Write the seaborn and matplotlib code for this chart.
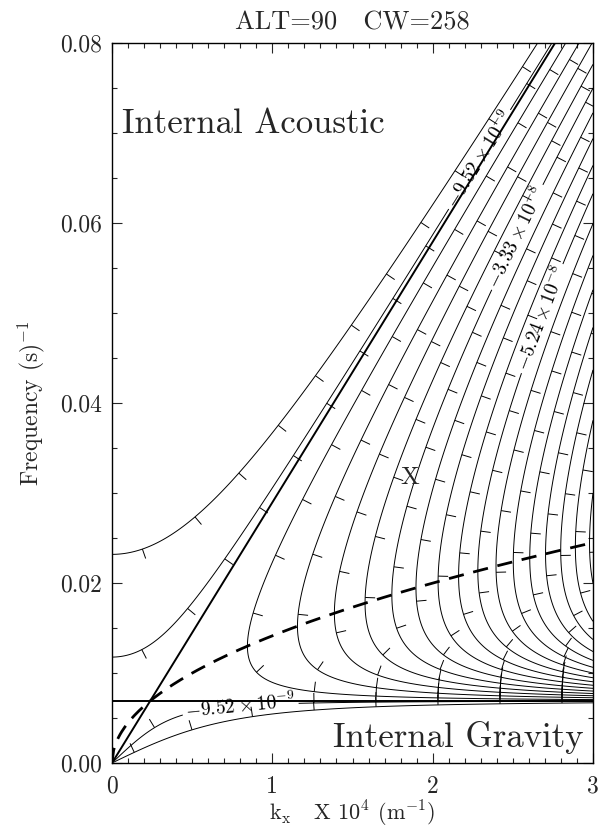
import numpy as np
import matplotlib
matplotlib.use("Agg")
import matplotlib.pyplot as plt
import seaborn as sns
from matplotlib.collections import LineCollection
from matplotlib.path import Path
from matplotlib.ticker import MultipleLocator, FormatStrFormatter

# physical parameters
sound_speed = 289.5      # m/s, slope of the acoustic line
brunt_freq = 0.0069      # s^-1, horizontal line
cutoff_freq = 0.0306     # s^-1, acoustic cut-off

# contour levels of kz^2 (units of 1e-8 m^-2)
kz2_levels = [-0.476, -0.952, -1.428, -1.904, -2.380, -2.856, -3.332, -3.808, -4.284,
              -4.760, -5.236, -5.712, -6.188, -6.664, -7.140, -7.616, -8.092, -8.568]
label_levels = [-5.236, -3.332, -0.952]
label_texts = [r"$-5.24\times10^{-8}$", r"$-3.33\times10^{-8}$", r"$-9.52\times10^{-9}$"]
label_pos = [(2.28, 0.0672), (2.46, 0.0590), (2.65, 0.0496), (0.80, 0.0064)]

kx_ticks = [0, 1, 2, 3]
freq_ticks = [0.00, 0.02, 0.04, 0.06, 0.08]


def kz2(k, w):
    # dispersion relation, k in 1e-4 m^-1, result in 1e-8 m^-2
    kk = k * 1e-4
    return ((w**2 - cutoff_freq**2) / sound_speed**2 - kk**2 * (1 - brunt_freq**2 / w**2)) * 1e8


sns.set_style("ticks")
plt.rcParams.update({
    "font.family": "cmr10",
    "mathtext.fontset": "cm",
    "axes.unicode_minus": False,
    "axes.formatter.use_mathtext": True,
    "axes.linewidth": 1.0,
    "axes.edgecolor": "black",
    "contour.negative_linestyle": "solid",
})

fig = plt.figure(figsize=(6.08, 8.34), dpi=100)
ax = fig.add_axes([112 / 608, 1 - 763 / 834, 481 / 608, 720 / 834])
ax.set_xlim(0, 3)
ax.set_ylim(0, 0.08)

kx = np.linspace(0, 3, 700)
w = np.concatenate([np.linspace(1e-4, 0.012, 900, endpoint=False), np.linspace(0.012, 0.081, 700)])
KK, WW = np.meshgrid(kx, w)
Z = kz2(KK, WW)

plain_levels = sorted(v for v in kz2_levels if v not in label_levels)
cset = ax.contour(KK, WW, Z, levels=plain_levels, colors="k", linewidths=0.7, linestyles="solid")
cset_lab = ax.contour(KK, WW, Z, levels=sorted(label_levels), colors="k", linewidths=0.7,
                      linestyles="solid")

fmt = dict(zip(label_levels, label_texts))
ax.clabel(cset_lab, manual=label_pos, inline=True, fmt=fmt, fontsize=14, inline_spacing=3)

# acoustic line, Brunt line and the dashed locus
k_top = 0.08 / (sound_speed * 1e-4)
sns.lineplot(x=[0, k_top], y=[0, 0.08], ax=ax, color="k", lw=1.4)
sns.lineplot(x=[0, 3], y=[brunt_freq, brunt_freq], ax=ax, color="k", lw=1.4)
kd = np.linspace(0, 3, 300)
wd = np.sqrt(brunt_freq * sound_speed * kd * 1e-4)
sns.lineplot(x=kd, y=wd, ax=ax, color="k", lw=2.0)
ax.lines[-1].set_dashes([5.5, 3.5])


# downhill tick marks along the contours
def split_path(path):
    v, c = path.vertices, path.codes
    if c is None:
        return [v]
    starts = list(np.flatnonzero(c == Path.MOVETO)) + [len(v)]
    out = []
    for a, b in zip(starts[:-1], starts[1:]):
        out.append(v[a:b][c[a:b] != Path.CLOSEPOLY])
    return out


trans = ax.transData
inv = trans.inverted()
spacing, length = 62, 10
segs = []
for cs_ in (cset, cset_lab):
    for path in cs_.get_paths():
        for poly in split_path(path):
            if len(poly) < 2:
                continue
            P = trans.transform(poly)
            d = np.hypot(*np.diff(P, axis=0).T)
            s = np.concatenate([[0], np.cumsum(d)])
            if s[-1] < spacing * 0.4:
                continue
            for sk in np.arange(spacing / 2, s[-1], spacing):
                i = int(np.clip(np.searchsorted(s, sk) - 1, 0, len(d) - 1))
                if d[i] == 0:
                    continue
                p = P[i] + (sk - s[i]) / d[i] * (P[i + 1] - P[i])
                t = (P[i + 1] - P[i]) / d[i]
                nrm = np.array([-t[1], t[0]])
                a = inv.transform(p)
                b = inv.transform(p + nrm)
                if a[1] <= 2e-4 or b[1] <= 2e-4:
                    continue
                if kz2(b[0], b[1]) > kz2(a[0], a[1]):
                    nrm = -nrm
                e = inv.transform(p + nrm * length)
                segs.append([a, e])
ax.add_collection(LineCollection(segs, colors="k", linewidths=0.7))

ax.text(0.06, 0.0700, "Internal Acoustic", fontsize=25, ha="left", va="baseline")
ax.text(2.94, 0.00178, "Internal Gravity", fontsize=25, ha="right", va="baseline")
ax.text(1.86, 0.0317, "X", fontsize=18, ha="center", va="center")

ax.set_xticks(kx_ticks)
ax.set_yticks(freq_ticks)
ax.xaxis.set_major_formatter(FormatStrFormatter("%d"))
ax.yaxis.set_major_formatter(FormatStrFormatter("%.2f"))
ax.xaxis.set_minor_locator(MultipleLocator(0.1))
ax.yaxis.set_minor_locator(MultipleLocator(0.005))
ax.tick_params(which="both", direction="in", top=True, right=True, labelsize=17, width=0.8)
ax.tick_params(which="major", length=7)
ax.tick_params(which="minor", length=3.5)
ax.tick_params(axis="x", pad=9)
ax.tick_params(axis="y", pad=7)

ax.set_title("ALT=90   CW=258", fontsize=19, pad=10)
ax.set_xlabel(r"k$_{\rm x}$   X 10$^{4}$ (m$^{-1}$)", fontsize=16, labelpad=1)
ax.set_ylabel(r"Frequency (s)$^{-1}$", fontsize=17, labelpad=10)

fig.savefig("out.png", dpi=100)
